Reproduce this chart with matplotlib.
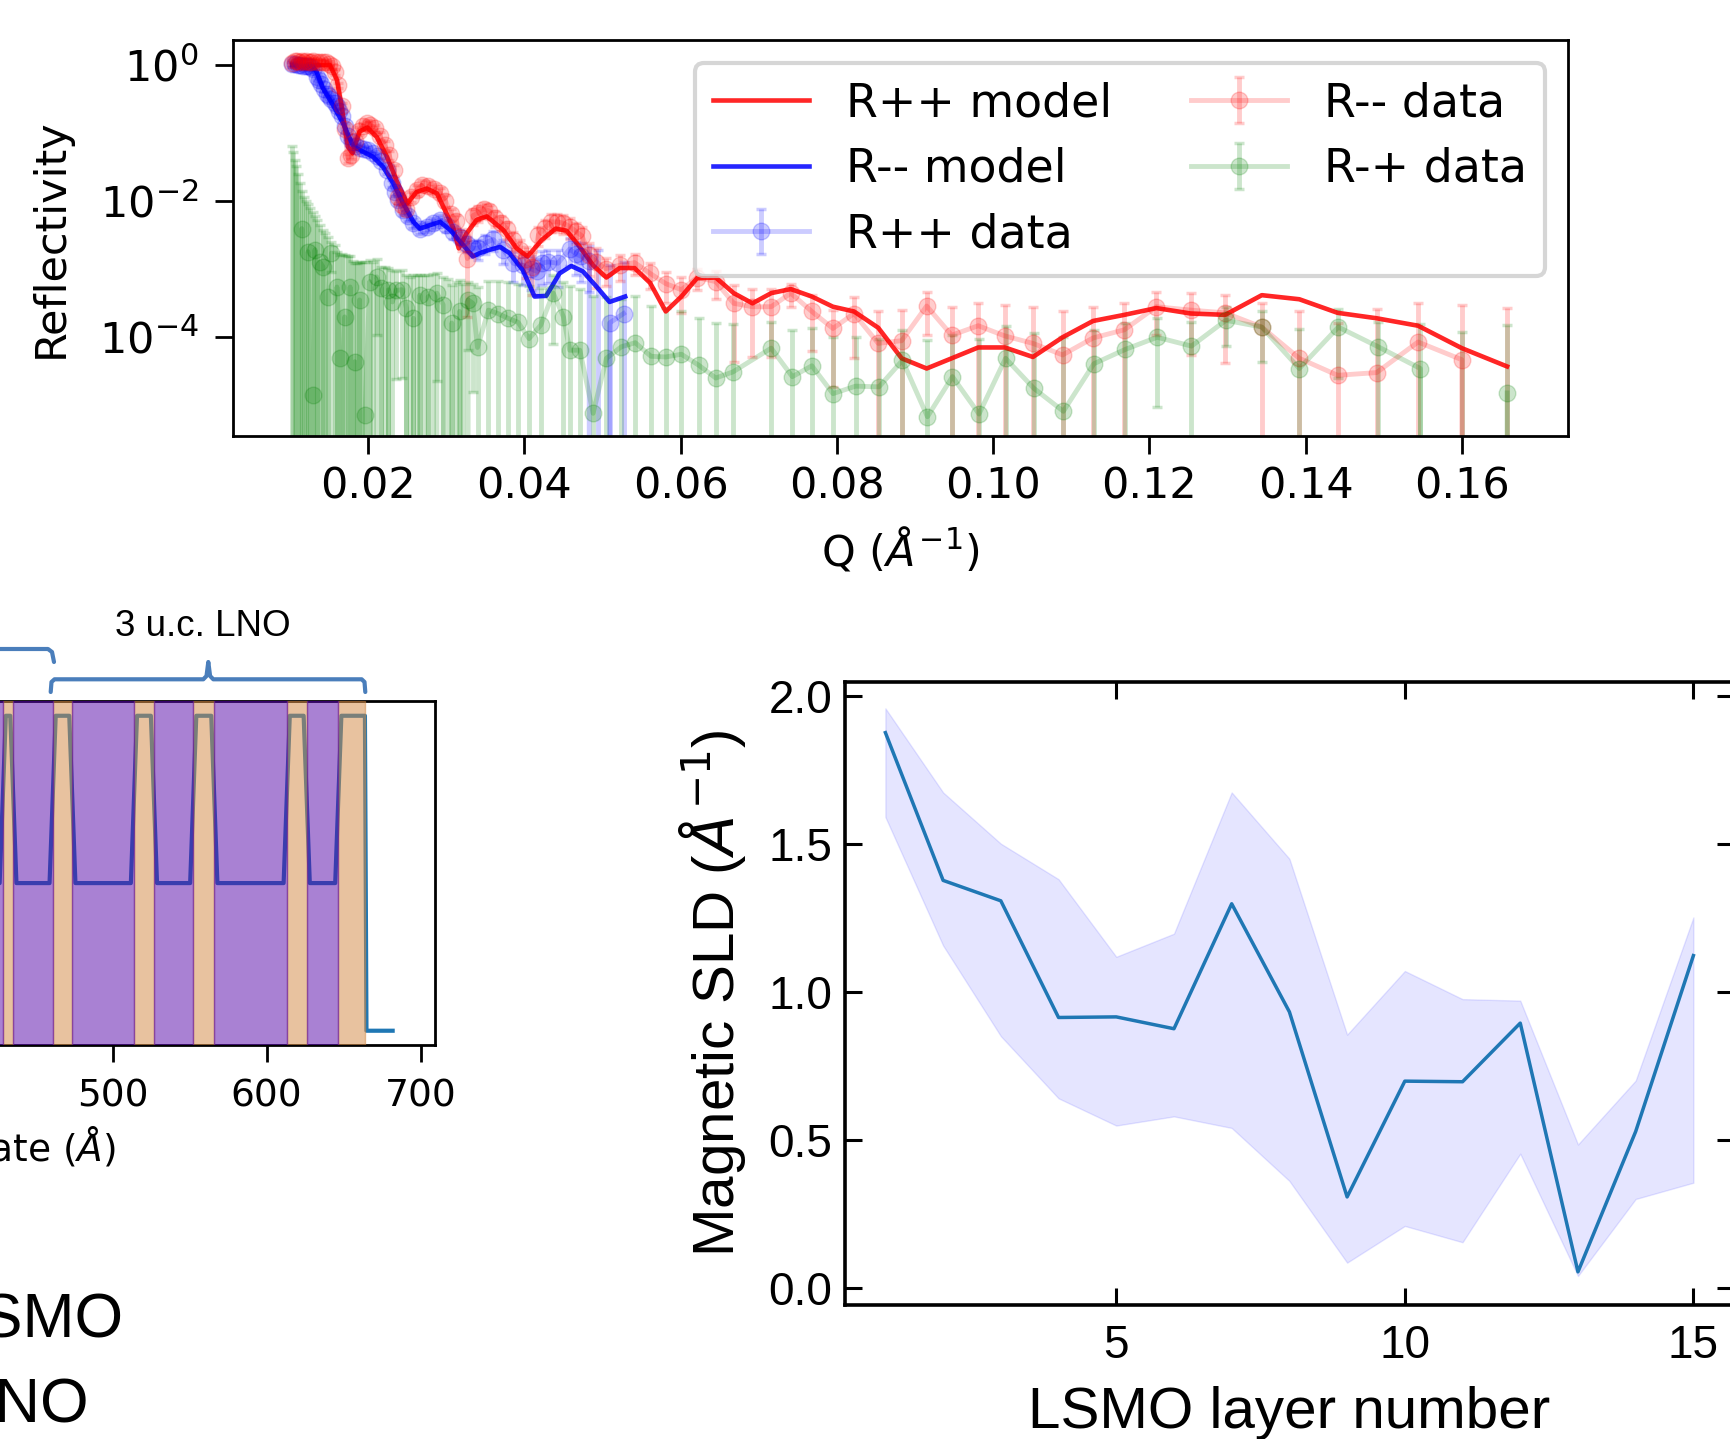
import numpy as np
import matplotlib
matplotlib.use("Agg")
import matplotlib.pyplot as plt
from matplotlib.lines import Line2D

W, H = 1730, 1439

# ---------------- reflectivity data (log10 R, log10 of error bar top) ----------------
# R++ data (blue points)
q_pp = [0.0102, 0.0106, 0.0110, 0.0113, 0.0117, 0.0120, 0.0123, 0.0127, 0.0130, 0.0134,
        0.0137, 0.0140, 0.0144, 0.0147, 0.0150, 0.0153, 0.0157, 0.0160, 0.0163, 0.0166,
        0.0170, 0.0174, 0.0179, 0.0185, 0.0190, 0.0195, 0.0200, 0.0206, 0.0211, 0.0217,
        0.0224, 0.0230, 0.0234, 0.0238, 0.0245, 0.0251, 0.0258, 0.0266, 0.0275, 0.0283,
        0.0292, 0.0300, 0.0309, 0.0317, 0.0326, 0.0334, 0.0341, 0.0350, 0.0360, 0.0373,
        0.0386, 0.0398, 0.0408, 0.0416, 0.0423, 0.0430, 0.0443, 0.0458, 0.0466, 0.0473,
        0.0483, 0.0494, 0.0509, 0.0527]
logr_pp = [0.01, 0.01, 0.00, 0.00, -0.01, -0.01, -0.01, -0.03, -0.06, -0.17,
           -0.22, -0.28, -0.36, -0.42, -0.46, -0.50, -0.56, -0.61, -0.68, -0.75,
           -0.90, -1.05, -1.13, -1.20, -1.22, -1.24, -1.25, -1.30, -1.34, -1.41,
           -1.55, -1.74, -1.87, -1.99, -2.14, -2.23, -2.33, -2.41, -2.38, -2.33,
           -2.28, -2.36, -2.46, -2.53, -2.63, -2.70, -2.70, -2.62, -2.57, -2.72,
           -2.92, -2.95, -3.00, -3.04, -2.92, -2.90, -2.92, -2.71, -2.78, -2.82,
           -2.88, np.nan, -3.80, -3.66]
top_pp = [0.05, 0.05, 0.04, 0.04, 0.03, 0.03, 0.03, 0.01, -0.02, -0.13,
          -0.18, -0.24, -0.32, -0.38, -0.42, -0.46, -0.52, -0.57, -0.64, -0.71,
          -0.86, -1.01, -1.09, -1.16, -1.18, -1.20, -1.21, -1.26, -1.30, -1.37,
          -1.50, -1.69, -1.82, -1.93, -2.08, -2.17, -2.27, -2.34, -2.31, -2.26,
          -2.21, -2.28, -2.38, -2.44, -2.53, -2.60, -2.58, -2.50, -2.45, -2.58,
          -2.75, -2.78, -2.82, -2.85, -2.74, -2.72, -2.73, -2.55, -2.60, -2.62,
          -2.66, -2.72, -2.95, -2.90]

# R-- data (red points)
q_mm = [0.0103, 0.0106, 0.0109, 0.0112, 0.0115, 0.0118, 0.0121, 0.0124, 0.0127, 0.0130,
        0.0134, 0.0138, 0.0142, 0.0146, 0.0150, 0.0154, 0.0158, 0.0162, 0.0166, 0.0170,
        0.0174, 0.0178, 0.0183, 0.0188, 0.0193, 0.0198, 0.0203, 0.0209, 0.0215, 0.0221,
        0.0227, 0.0233, 0.0238, 0.0243, 0.0249, 0.0255, 0.0262, 0.0269, 0.0276, 0.0284,
        0.0292, 0.0299, 0.0306, 0.0313, 0.0320, 0.0327, 0.0334, 0.0341, 0.0348, 0.0355,
        0.0362, 0.0370, 0.0378, 0.0386, 0.0394, 0.0402, 0.0410, 0.0418, 0.0426, 0.0434,
        0.0442, 0.0450, 0.0458, 0.0466, 0.0474, 0.0483, 0.0492, 0.0504, 0.0522, 0.0541,
        0.0561, 0.0581, 0.0601, 0.0621, 0.0645, 0.0668, 0.0692, 0.0716, 0.0741, 0.0768,
        0.0795, 0.0822, 0.0853, 0.0883, 0.0915, 0.0947, 0.0981, 0.1015, 0.1051, 0.1089,
        0.1128, 0.1168, 0.1209, 0.1253, 0.1297, 0.1344, 0.1392, 0.1441, 0.1491, 0.1544,
        0.1600, 0.1658]
logr_mm = [0.03, 0.06, 0.06, 0.05, 0.06, 0.05, 0.06, 0.05, 0.05, 0.06,
           0.05, 0.04, 0.05, 0.04, 0.02, -0.02, -0.10, -0.30, -0.60, -0.95,
           -1.37, -1.32, -1.12, -0.97, -0.90, -0.86, -0.88, -0.93, -1.04, -1.18,
           -1.33, -1.55, -1.95, -2.06, -2.12, -1.94, -1.84, -1.77, -1.78, -1.82,
           -1.88, -2.00, -2.20, -2.30, -2.55, -2.85, -2.22, -2.18, -2.12, -2.15,
           -2.25, -2.32, -2.42, -2.58, -2.72, -2.85, -2.97, -2.50, -2.40, -2.31,
           -2.31, -2.33, -2.38, -2.45, -2.52, -2.80, -2.90, -3.00, -2.95, -2.91,
           -3.07, -3.22, -3.31, -3.13, -3.19, -3.51, -3.56, -3.56, -3.36, -3.63,
           -3.88, -3.66, -4.10, -4.06, -3.55, -3.98, -3.84, -3.99, -4.10, -4.27,
           -4.02, -3.90, -3.56, -3.61, -3.65, -3.86, -4.32, -4.57, -4.53, -4.08,
           -4.34, np.nan]
top_mm = [0.08, 0.10, 0.10, 0.09, 0.10, 0.09, 0.10, 0.09, 0.09, 0.10,
          0.09, 0.08, 0.09, 0.08, 0.06, 0.02, -0.06, -0.26, -0.56, -0.90,
          -1.31, -1.26, -1.07, -0.92, -0.85, -0.81, -0.83, -0.88, -0.98, -1.12,
          -1.27, -1.48, -1.88, -1.99, -2.05, -1.87, -1.77, -1.70, -1.71, -1.75,
          -1.81, -1.92, -2.12, -2.21, -2.42, -2.58, -2.12, -2.08, -2.03, -2.06,
          -2.15, -2.22, -2.31, -2.46, -2.58, -2.68, -2.76, -2.38, -2.29, -2.20,
          -2.20, -2.21, -2.25, -2.32, -2.38, -2.62, -2.70, -2.84, -2.80, -2.78,
          -2.92, -3.05, -3.12, -3.00, -3.03, -3.24, -3.30, -3.30, -3.22, -3.39,
          -3.61, -3.41, -3.63, -3.61, -3.34, -3.57, -3.50, -3.53, -3.57, -3.63,
          -3.56, -3.51, -3.35, -3.36, -3.39, -3.50, -3.63, -3.80, -3.60, -3.50,
          -3.53, -3.58]

# R-+ data (green points)
q_pm = [0.0102, 0.0104, 0.0106, 0.0108, 0.0110, 0.0113, 0.0115, 0.0118, 0.0121, 0.0123,
        0.0126, 0.0129, 0.0132, 0.0135, 0.0138, 0.0142, 0.0145, 0.0149, 0.0153, 0.0157,
        0.0160, 0.0164, 0.0167, 0.0170, 0.0174, 0.0177, 0.0180, 0.0183, 0.0186, 0.0189,
        0.0192, 0.0196, 0.0202, 0.0206, 0.0211, 0.0217, 0.0221, 0.0226, 0.0231, 0.0236,
        0.0243, 0.0249, 0.0253, 0.0258, 0.0262, 0.0266, 0.0271, 0.0277, 0.0283, 0.0288,
        0.0296, 0.0302, 0.0307, 0.0312, 0.0317, 0.0322, 0.0328, 0.0334, 0.0340, 0.0354,
        0.0366, 0.0379, 0.0392, 0.0406, 0.0421, 0.0437, 0.0450, 0.0458, 0.0471, 0.0488,
        0.0505, 0.0524, 0.0542, 0.0562, 0.0581, 0.0601, 0.0623, 0.0645, 0.0667, 0.0716,
        0.0743, 0.0768, 0.0795, 0.0824, 0.0854, 0.0884, 0.0916, 0.0948, 0.0982, 0.1016,
        0.1052, 0.1090, 0.1129, 0.1169, 0.1210, 0.1254, 0.1298, 0.1344, 0.1392, 0.1442,
        0.1493, 0.1547, 0.1600, 0.1658]
logr_pm = [np.nan, np.nan, np.nan, np.nan, np.nan, np.nan, -2.41, np.nan, np.nan, -2.75,
           np.nan, -4.86, -2.72, np.nan, -2.90, -2.97, np.nan, -3.41, -2.77, np.nan,
           -3.27, -4.32, np.nan, -3.71, np.nan, -3.27, np.nan, -4.37, np.nan, -3.46,
           np.nan, -5.15, -3.19, np.nan, -3.12, -3.29, np.nan, -3.31, -3.49, -3.32,
           -3.31, -3.58, np.nan, -3.73, np.nan, -3.39, np.nan, -3.41, np.nan, -3.36,
           -3.53, np.nan, -3.80, np.nan, -3.63, np.nan, -3.46, -3.51, -4.16, -3.61,
           -3.66, -3.73, -3.79, -4.03, -3.83, -3.36, -3.71, -4.20, -4.20, -5.13,
           -4.32, -4.15, -4.09, -4.29, -4.30, -4.26, -4.42, -4.61, -4.52, -4.17,
           -4.59, -4.43, -4.84, -4.73, -4.74, -4.35, -5.18, -4.59, -5.14, -4.32,
           -4.76, -5.10, -4.40, -4.19, -4.01, -4.14, -3.76, -3.86, -4.47, -3.86,
           -4.15, -4.47, np.nan, -4.83]
top_pm = [-1.20, -1.28, -1.40, -1.49, -1.60, -1.74, -1.85, -1.95, -2.00, -2.04,
          -2.10, -2.16, -2.22, -2.28, -2.35, -2.43, -2.48, -2.53, -2.60, -2.65,
          -2.75, -2.80, -2.78, -2.80, -2.82, -2.81, -2.88, -2.91, -2.92, -2.90,
          -2.90, -2.90, -2.87, -2.90, -2.85, -2.97, -2.98, -2.99, -3.02, -3.03,
          -3.02, -3.10, -3.12, -3.10, -3.10, -3.09, -3.10, -3.09, -3.08, -3.07,
          -3.12, -3.15, -3.24, -3.20, -3.17, -3.22, -3.20, -3.22, -3.27, -3.18,
          -3.18, -3.20, -3.22, -3.25, -3.28, -3.10, -3.20, -3.25, -3.30, -3.40,
          -3.42, -3.45, -3.40, -3.55, -3.58, -3.62, -3.73, -3.80, -3.82, -3.78,
          -3.90, -3.87, -4.00, -4.00, -4.03, -3.90, -4.05, -3.98, -4.04, -3.85,
          -3.95, -4.01, -3.90, -3.80, -3.73, -3.78, -3.56, -3.63, -3.89, -3.60,
          -3.78, -3.81, -3.93, -3.83]

# model curves
qm_pp = [0.0103, 0.0130, 0.0151, 0.0160, 0.0166, 0.0174, 0.0180, 0.0189, 0.0199, 0.0211,
         0.0224, 0.0236, 0.0250, 0.0262, 0.0275, 0.0288, 0.0300, 0.0309, 0.0316, 0.0326,
         0.0339, 0.0352, 0.0373, 0.0390, 0.0404, 0.0422, 0.0440, 0.0454, 0.0471, 0.0488,
         0.0505, 0.0522, 0.0541, 0.0561, 0.0581, 0.0601, 0.0621, 0.0645, 0.0668, 0.0692,
         0.0716, 0.0741, 0.0768, 0.0795, 0.0822, 0.0853, 0.0883, 0.0915, 0.0947, 0.0981,
         0.1015, 0.1051, 0.1089, 0.1128, 0.1168, 0.1209, 0.1253, 0.1297, 0.1344, 0.1392,
         0.1441, 0.1491, 0.1544, 0.1600, 0.1658]
logm_pp = [0, 0, 0, -0.22, -0.61, -1.20, -1.30, -0.98, -0.92, -1.06,
           -1.35, -1.69, -2.04, -1.87, -1.82, -1.89, -2.18, -2.40, -2.70, -2.48,
           -2.28, -2.23, -2.43, -2.70, -2.82, -2.58, -2.41, -2.44, -2.68, -2.95,
           -3.13, -2.99, -2.99, -3.21, -3.63, -3.41, -3.14, -3.13, -3.36, -3.51,
           -3.36, -3.30, -3.41, -3.56, -3.63, -3.87, -4.32, -4.47, -4.32, -4.16,
           -4.16, -4.30, -4.01, -3.77, -3.68, -3.58, -3.66, -3.68, -3.39, -3.45,
           -3.65, -3.73, -3.84, -4.17, -4.44]
qm_mm = [0.0103, 0.0128, 0.0134, 0.0142, 0.0155, 0.0168, 0.0181, 0.0194, 0.0206, 0.0219,
         0.0232, 0.0245, 0.0258, 0.0266, 0.0279, 0.0292, 0.0305, 0.0320, 0.0334, 0.0343,
         0.0356, 0.0369, 0.0381, 0.0398, 0.0413, 0.0428, 0.0445, 0.0460, 0.0475, 0.0492,
         0.0509, 0.0529]
logm_mm = [0, -0.01, -0.10, -0.34, -0.59, -0.86, -1.20, -1.28, -1.35, -1.50,
           -1.74, -2.04, -2.31, -2.41, -2.36, -2.31, -2.43, -2.63, -2.82, -2.77,
           -2.72, -2.68, -2.77, -3.02, -3.41, -3.40, -3.07, -2.96, -3.04, -3.26,
           -3.49, -3.41]

# ---------------- SLD profile (depth, SLD) ----------------
lno_layers = [(428.6, 435.5), (461.0, 473.8), (513.8, 526.8), (552.3, 566.0),
              (613.0, 626.0), (646.5, 663.8)]
lsmo_layers = [(380.0, 428.6), (435.5, 461.0), (473.8, 513.8), (526.8, 552.3),
               (566.0, 613.0), (626.0, 646.5)]
z_prof = [380, 426.6, 430.6, 433.5, 437.5, 459.0, 463.0, 471.8, 475.8, 511.8,
          515.8, 524.8, 528.8, 550.3, 554.3, 564.0, 568.0, 611.0, 615.0, 624.0,
          628.0, 644.5, 648.5, 663.8, 664.8, 681.8]
sld_prof = [3.0, 3.0, 6.4, 6.4, 3.0, 3.0, 6.4, 6.4, 3.0, 3.0,
            6.4, 6.4, 3.0, 3.0, 6.4, 6.4, 3.0, 3.0, 6.4, 6.4,
            3.0, 3.0, 6.4, 6.4, 0.0, 0.0]

# ---------------- magnetic SLD per LSMO layer ----------------
layer = np.arange(1, 16)
msld = [1.876, 1.377, 1.308, 0.914, 0.916, 0.876, 1.298, 0.933, 0.308, 0.699,
        0.697, 0.895, 0.055, 0.529, 1.123]
msld_hi = [1.958, 1.674, 1.501, 1.381, 1.119, 1.197, 1.674, 1.450, 0.856, 1.071,
           0.976, 0.971, 0.485, 0.701, 1.252]
msld_lo = [1.591, 1.157, 0.851, 0.641, 0.549, 0.580, 0.541, 0.362, 0.086, 0.210,
           0.155, 0.454, 0.041, 0.301, 0.356]


def to_err(logr, top):
    logr = np.array(logr, dtype=float)
    r = np.where(np.isnan(logr), -1e-7, 10 ** np.nan_to_num(logr))
    dr = 10 ** np.array(top) - r
    return r, dr


fig = plt.figure(figsize=(W / 100, H / 100), dpi=100)

# ===== top: reflectivity =====
ax1 = fig.add_axes([233 / W, 1 - 436 / H, 1335 / W, 396 / H])
ax1.set_yscale('log')
kw = dict(fmt='o-', alpha=0.2, ms=12, lw=3.5, elinewidth=3.5, capsize=3.5, capthick=2.5)
r, dr = to_err(logr_pp, top_pp)
e_pp = ax1.errorbar(q_pp, r, yerr=dr, color='b', label='R++ data', **kw)
r, dr = to_err(logr_mm, top_mm)
e_mm = ax1.errorbar(q_mm, r, yerr=dr, color='r', label='R-- data', **kw)
r, dr = to_err(logr_pm, top_pm)
e_pm = ax1.errorbar(q_pm, r, yerr=dr, color='g', label='R-+ data', **kw)
l_pp, = ax1.plot(qm_pp, 10 ** np.array(logm_pp, dtype=float), color='r', alpha=0.85, lw=3.3, label='R++ model')
l_mm, = ax1.plot(qm_mm, 10 ** np.array(logm_mm, dtype=float), color='b', alpha=0.85, lw=3.3, label='R-- model')

ax1.set_xlim(0.0027, 0.1736)
ax1.set_ylim(10 ** -5.464, 10 ** 0.368)
ax1.set_xticks([0.02, 0.04, 0.06, 0.08, 0.10, 0.12, 0.14, 0.16])
ax1.set_xticklabels(['0.02', '0.04', '0.06', '0.08', '0.10', '0.12', '0.14', '0.16'])
ax1.set_yticks([1e-4, 1e-2, 1])
ax1.yaxis.set_minor_locator(plt.NullLocator())
ax1.tick_params(labelsize=31, length=13, width=2)
ax1.tick_params(axis='x', pad=8)
ax1.tick_params(axis='y', pad=12)
for s in ax1.spines.values():
    s.set_linewidth(2)
ax1.set_xlabel(r'Q ($\AA^{-1}$)', fontsize=31)
ax1.xaxis.set_label_coords(0.5, -0.225)
ax1.set_ylabel('Reflectivity', fontsize=31)
ax1.yaxis.set_label_coords(-0.121, 0.5)
leg = ax1.legend(handles=[l_pp, l_mm, e_pp, e_mm, e_pm], ncol=2, loc='upper right',
                 fontsize=33, labelspacing=0.45, handlelength=2.1, columnspacing=1.72)
leg.get_frame().set_linewidth(3)

# ===== bottom left: SLD profile (cropped) =====
ax2 = fig.add_axes([-703.5 / W, 1 - 1045 / H, 1138.5 / W, 344 / H])
ax2.plot(z_prof, sld_prof, color='#1f77b4', lw=3, zorder=2)
for a, b in lno_layers:
    ax2.axvspan(a, b, color='#d38741', alpha=0.5, zorder=3)
for a, b in lsmo_layers:
    ax2.axvspan(a, b, color='#5505a9', alpha=0.5, zorder=3)
ax2.set_xlim(-30, 709.3)
ax2.set_ylim(-0.29, 6.70)
ax2.set_xticks(range(0, 800, 100))
ax2.tick_params(labelsize=27, length=12, width=2, pad=12)
for s in ax2.spines.values():
    s.set_linewidth(2)
ax2.set_xlabel(r'Distance from substrate ($\AA$)', fontsize=27, ha='right')
ax2.xaxis.set_label_coords((116 + 703.5) / 1138.5, -0.23)

# brackets and labels
bc = '#4a7ebb'
br_left = ([0, 48, 52, 54], [649, 649, 652, 662])
br_right = ([50.7, 51.5, 54.5, 203.3, 206.5, 208.3, 210.1, 213.3, 361.7, 364.5, 365.3],
            [692, 682, 679.3, 679.3, 676, 662, 676, 679.3, 679.3, 682, 692])
for xs, ys in (br_left, br_right):
    fig.add_artist(Line2D([x / W for x in xs], [1 - y / H for y in ys],
                          color=bc, lw=3, solid_capstyle='round',
                          solid_joinstyle='round'))
fig.text(203 / W, 1 - 627 / H, '3 u.c. LNO', fontsize=26.5, family='Liberation Sans',
         ha='center', va='center')
fig.text(124 / W, 1 - 1321 / H, 'LSMO', fontsize=45, family='Liberation Sans',
         ha='right', va='center')
fig.text(89 / W, 1 - 1406 / H, 'LNO', fontsize=45, family='Liberation Sans',
         ha='right', va='center')

# ===== bottom right: magnetic SLD =====
ax3 = fig.add_axes([845 / W, 1 - 1305 / H, 888.8 / W, 623 / H])
ax3.fill_between(layer, msld_lo, msld_hi, color='b', alpha=0.1)
ax3.plot(layer, msld, color='#1f77b4', lw=2.5)
ax3.set_xlim(0.3, 15.7)
ax3.set_ylim(-0.057, 2.047)
ax3.set_xticks([5, 10, 15])
ax3.set_yticks([0, 0.5, 1.0, 1.5, 2.0])
ax3.set_yticklabels(['0.0', '0.5', '1.0', '1.5', '2.0'])
ax3.tick_params(direction='in', top=True, right=True, length=12, width=2.2,
                labelsize=33, pad=9, labelfontfamily='Liberation Sans')
ax3.tick_params(axis='x', pad=14)
for s in ax3.spines.values():
    s.set_linewidth(2.6)
ax3.set_xlabel('LSMO layer number', fontsize=42, family='Liberation Sans')
ax3.xaxis.set_label_coords(0.5, -0.13)
ax3.set_ylabel(r'Magnetic SLD ($\AA^{-1}$)', fontsize=42, family='Liberation Sans')
ax3.yaxis.set_label_coords(-0.109, 0.5)

fig.savefig('out.png', dpi=100)
